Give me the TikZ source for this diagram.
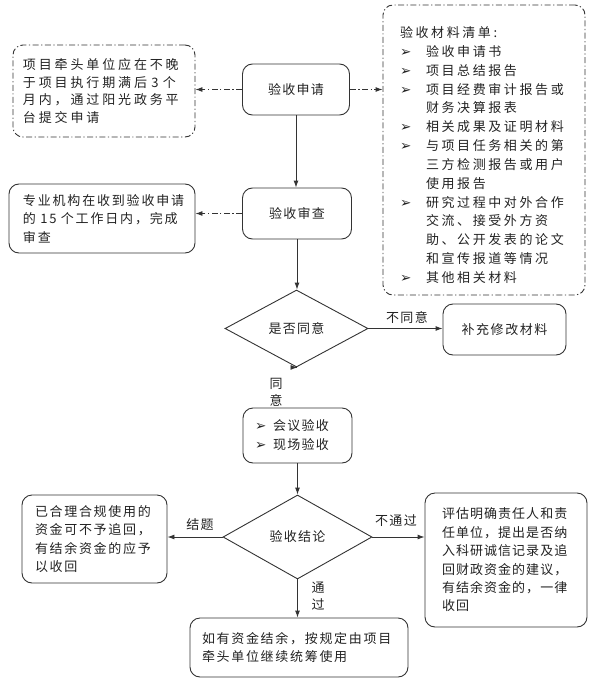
\documentclass[tikz,border=0pt]{standalone}
\usepackage{fontspec}
\setmainfont{Noto Sans CJK SC}
\newfontfamily\dv{DejaVu Sans}
\usetikzlibrary{shapes.geometric,arrows.meta}
\newcommand\ls[1]{\addfontfeatures{LetterSpace=#1}}
\newcommand\fs[2]{\fontsize{13}{#1}\selectfont\ls{#2}}
\newcommand\bul[1]{\makebox[#1][l]{\dv\fontsize{13.5}{13.5}\selectfont ➢}}
\definecolor{ln}{HTML}{333333}
\definecolor{tx}{HTML}{222222}
\tikzset{
  box/.style={draw=ln, rounded corners=10pt, line width=0.9pt, inner sep=0pt, align=left, text=tx},
  ddbox/.style={box, dash pattern=on 6pt off 2.5pt on 1.2pt off 2.5pt},
  dia/.style={draw=ln, diamond, line width=0.9pt, inner sep=0pt, text=tx, font=\fs{16}{10}},
  arr/.style={draw=ln, line width=0.9pt, -{Latex[length=7pt,width=5pt]}},
  darr/.style={arr, dash pattern=on 6pt off 2.5pt on 1.2pt off 2.5pt},
  lbl/.style={text=tx, inner sep=0pt, align=center}
}
\begin{document}
\begin{tikzpicture}[x=1pt,y=-1pt]
\useasboundingbox (0,0) rectangle (610,685);
% main column
\node[box, minimum width=107pt, minimum height=51pt, align=center, font=\fs{16}{10}] (apply) at (296,89.5) {验收申请};
\node[box, minimum width=109pt, minimum height=51pt, align=center, font=\fs{16}{10}] (review) at (297,213.5) {验收审查};
\node[dia, minimum width=143pt, minimum height=77pt] (agree) at (296.5,328.5) {是否同意};
\node[box, minimum width=123pt, minimum height=51pt, align=center, font=\fs{16}{12}] (supp) at (504.5,329.5) {补充修改材料};
\node[box, minimum width=109pt, minimum height=55pt, text width=85pt, font=\fs{19}{10}] (meet) at (297.5,435.5) {\bul{18pt}会议验收\\\bul{18pt}现场验收};
\node[dia, minimum width=149pt, minimum height=84pt] (concl) at (297.5,537) {验收结论};
% side notes
\node[ddbox, minimum width=182pt, minimum height=92pt, text width=162pt, font=\fs{17.7}{22}] (note1) at (104,91)
  {项目牵头单位应在不晚\\于项目执行期满后 3 个\\月内，通过阳光政务平\\台提交申请};
\node[ddbox, minimum width=202pt, minimum height=290pt, text width=168pt, font=\fs{18.85}{20}] (list) at (484,150)
  {\rule{0pt}{21pt}验收材料清单:\\
   \bul{26pt}验收申请书\\
   \bul{26pt}项目总结报告\\
   \bul{26pt}项目经费审计报告或\\
   \hspace*{26pt}财务决算报表\\
   \bul{26pt}相关成果及证明材料\\
   \bul{26pt}与项目任务相关的第\\
   \hspace*{26pt}三方检测报告或用户\\
   \hspace*{26pt}使用报告\\
   \bul{26pt}研究过程中对外合作\\
   \hspace*{26pt}交流、接受外方资\\
   \hspace*{26pt}助、公开发表的论文\\
   \hspace*{26pt}和宣传报道等情况\\
   \bul{26pt}其他相关材料};
\node[box, minimum width=186pt, minimum height=69pt, text width=158pt, font=\fs{18.5}{14}] (note2) at (102,218.5)
  {专业机构在收到验收申请\\的 15 个工作日内，完成\\审查};
\node[box, minimum width=145pt, minimum height=88pt, text width=119pt, font=\fs{18.3}{13}] (close) at (94.5,539)
  {已合理合规使用的\\资金可不予追回，\\有结余资金的应予\\以收回};
\node[box, minimum width=162pt, minimum height=134pt, text width=128pt, font=\fs{18.4}{8}] (fail) at (506,560)
  {评估明确责任人和责\\任单位，提出是否纳\\入科研诚信记录及追\\回财政资金的建议，\\有结余资金的，一律\\收回};
\node[box, minimum width=218pt, minimum height=59pt, text width=194pt, font=\fs{18}{13}] (bottom) at (299,647.5)
  {如有资金结余，按规定由项目\\牵头单位继续统筹使用};
% connectors
\draw[arr] (apply.south) -- (apply.south |- review.north);
\draw[arr] (review.south) -- (review.south |- agree.north);
\draw[darr] (apply.west) -- (apply.west -| note1.east);
\draw[darr] (apply.east) -- (apply.east -| list.west);
\draw[darr] (review.west) -- (review.west -| note2.east);
\draw[arr] (agree.east) -- (agree.east -| supp.west);
\draw[arr] (agree.south) -- (agree.south -| meet.north);
\draw[arr] (meet.south) -- (meet.south |- concl.north);
\draw[arr] (concl.west) -- (concl.west -| close.east);
\draw[arr] (concl.east) -- (concl.east -| fail.west);
\draw[arr] (concl.south) -- (concl.south |- bottom.north);
% labels
\node[lbl, font=\fs{17}{10}] (l1) at (407,318) {不同意};
\node[lbl, font=\fs{17}{10}] (l2) at (276,392) {同\\意};
\node[lbl, font=\fs{17}{10}] (l3) at (200,525) {结题};
\node[lbl, font=\fs{17}{10}] (l4) at (396,521) {不通过};
\node[lbl, font=\fs{17}{10}] (l5) at (318,596) {通\\过};
\end{tikzpicture}
\end{document}
